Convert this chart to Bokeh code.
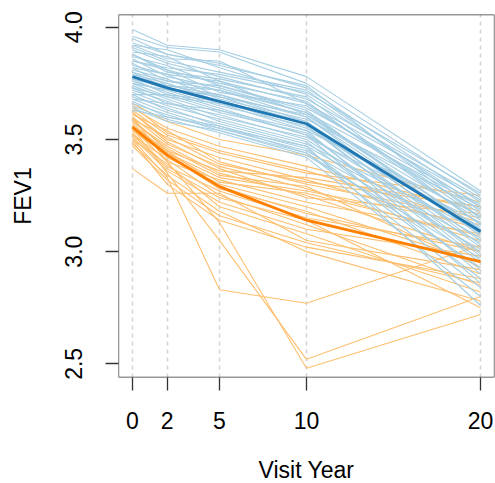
from bokeh.plotting import figure
from bokeh.models import ColumnDataSource, FixedTicker, Range1d, BoxAnnotation
from bokeh.embed import file_html
from bokeh.resources import INLINE

visit_years = [0, 2, 5, 10, 20]
y_ticks = [2.5, 3.0, 3.5, 4.0]

# Light blue group: FEV1 at visits 0, 2, 5, 10, 20
blue_subjects = [
    [3.99, 3.92, 3.90, 3.78, 3.27],
    [3.96, 3.91, 3.89, 3.75, 3.25],
    [3.93, 3.88, 3.84, 3.73, 3.22],
    [3.92, 3.90, 3.82, 3.70, 3.20],
    [3.91, 3.85, 3.80, 3.72, 3.18],
    [3.90, 3.84, 3.78, 3.68, 3.24],
    [3.89, 3.87, 3.76, 3.66, 3.15],
    [3.88, 3.80, 3.77, 3.69, 3.12],
    [3.87, 3.83, 3.74, 3.64, 3.21],
    [3.86, 3.78, 3.73, 3.62, 3.10],
    [3.85, 3.81, 3.71, 3.65, 3.17],
    [3.84, 3.76, 3.72, 3.60, 3.08],
    [3.83, 3.79, 3.69, 3.61, 3.14],
    [3.82, 3.74, 3.70, 3.58, 3.05],
    [3.81, 3.77, 3.68, 3.59, 3.19],
    [3.80, 3.73, 3.66, 3.57, 3.02],
    [3.79, 3.75, 3.67, 3.55, 3.11],
    [3.78, 3.72, 3.65, 3.56, 2.98],
    [3.77, 3.70, 3.63, 3.54, 3.16],
    [3.76, 3.71, 3.64, 3.52, 3.06],
    [3.75, 3.69, 3.62, 3.53, 2.95],
    [3.74, 3.68, 3.60, 3.51, 3.13],
    [3.73, 3.66, 3.61, 3.50, 3.00],
    [3.72, 3.67, 3.58, 3.48, 3.09],
    [3.71, 3.65, 3.59, 3.49, 2.92],
    [3.70, 3.63, 3.57, 3.47, 3.04],
    [3.69, 3.64, 3.56, 3.46, 2.88],
    [3.68, 3.62, 3.55, 3.45, 3.01],
    [3.67, 3.60, 3.56, 3.44, 2.84],
    [3.66, 3.61, 3.54, 3.43, 2.97],
    [3.65, 3.59, 3.53, 3.42, 2.80],
    [3.64, 3.58, 3.54, 3.44, 2.93],
    [3.63, 3.60, 3.55, 3.47, 2.76],
    [3.92, 3.86, 3.85, 3.66, 3.23],
    [3.85, 3.82, 3.79, 3.71, 3.26],
    [3.80, 3.76, 3.74, 3.63, 3.07],
    [3.75, 3.72, 3.70, 3.60, 3.03],
    [3.70, 3.70, 3.67, 3.58, 2.99],
    [3.88, 3.81, 3.75, 3.67, 3.12],
    [3.78, 3.74, 3.72, 3.62, 3.20],
    [3.73, 3.69, 3.66, 3.54, 2.90],
    [3.68, 3.66, 3.63, 3.52, 2.86],
    [3.95, 3.88, 3.83, 3.74, 3.15],
    [3.82, 3.79, 3.76, 3.61, 3.10],
    [3.77, 3.73, 3.69, 3.57, 2.96],
]

# Light orange group
orange_subjects = [
    [3.66, 3.58, 3.50, 3.43, 3.22],
    [3.64, 3.55, 3.47, 3.38, 3.18],
    [3.63, 3.52, 3.44, 3.35, 3.25],
    [3.62, 3.50, 3.42, 3.32, 3.10],
    [3.61, 3.54, 3.40, 3.30, 3.15],
    [3.60, 3.48, 3.38, 3.28, 3.05],
    [3.59, 3.45, 3.36, 3.33, 3.20],
    [3.58, 3.47, 3.35, 3.25, 3.00],
    [3.57, 3.44, 3.33, 3.27, 3.12],
    [3.56, 3.42, 3.30, 3.20, 2.95],
    [3.55, 3.40, 3.32, 3.22, 3.08],
    [3.54, 3.43, 3.28, 3.18, 2.90],
    [3.53, 3.38, 3.27, 3.15, 3.02],
    [3.52, 3.41, 3.25, 3.12, 2.85],
    [3.51, 3.36, 3.22, 3.10, 2.98],
    [3.50, 3.39, 3.20, 3.08, 2.82],
    [3.50, 3.33, 2.83, 2.77, 3.03],
    [3.55, 3.35, 3.05, 2.52, 2.80],
    [3.60, 3.40, 3.13, 2.48, 2.72],
    [3.49, 3.30, 3.14, 3.02, 2.88],
    [3.37, 3.26, 3.26, 3.05, 2.92],
    [3.48, 3.34, 3.18, 3.00, 2.78],
    [3.62, 3.49, 3.37, 3.24, 3.17],
    [3.58, 3.46, 3.34, 3.29, 2.93],
    [3.54, 3.44, 3.31, 3.26, 3.07],
    [3.65, 3.53, 3.45, 3.36, 3.13],
    [3.52, 3.37, 3.24, 3.14, 2.75],
    [3.47, 3.32, 3.16, 3.04, 2.86],
    [3.59, 3.51, 3.39, 3.31, 3.20],
    [3.56, 3.45, 3.29, 3.17, 3.00],
]

blue_mean = [3.78, 3.73, 3.67, 3.57, 3.09]
orange_mean = [3.555, 3.43, 3.29, 3.14, 2.955]

FONT = "Liberation Sans"

p = figure(
    width=495, height=483,
    frame_width=376, frame_height=363,
    min_border_left=118, min_border_right=1,
    min_border_top=14, min_border_bottom=106,
    x_range=Range1d(-0.8, 20.8), y_range=Range1d(2.439, 4.057),
    output_backend="svg", toolbar_location=None,
    background_fill_color="white", border_fill_color="white",
)

p.outline_line_color = None

# grid: vertical dashed lines at visit years only
p.ygrid.grid_line_color = None
p.xgrid.ticker = FixedTicker(ticks=visit_years)
p.xgrid.grid_line_color = "#d3d3d3"
p.xgrid.grid_line_dash = "4 4"
p.xgrid.grid_line_width = 1.5

orange_src = ColumnDataSource(dict(xs=[visit_years] * len(orange_subjects), ys=orange_subjects))
blue_src = ColumnDataSource(dict(xs=[visit_years] * len(blue_subjects), ys=blue_subjects))

p.multi_line("xs", "ys", source=orange_src, line_color="#fdbf6f", line_width=1.1)
p.multi_line("xs", "ys", source=blue_src, line_color="#a6cee3", line_width=1.1)

p.line(visit_years, orange_mean, line_color="#ff7f00", line_width=2.8)
p.line(visit_years, blue_mean, line_color="#1f78b4", line_width=2.8)

# plot box (spans the whole frame)
p.add_layout(BoxAnnotation(fill_color=None, fill_alpha=0, line_color="#333333",
                           line_alpha=1.0, line_width=1.3, level="overlay"))

for ax in (p.xaxis[0], p.yaxis[0]):
    ax.axis_line_color = None
    ax.major_tick_line_color = "#333333"
    ax.major_tick_line_width = 1.3
    ax.major_tick_out = 13
    ax.major_tick_in = 0
    ax.minor_tick_line_color = None
    ax.major_label_text_font = FONT
    ax.major_label_text_font_size = "23px"
    ax.major_label_text_color = "black"
    ax.axis_label_text_font = FONT
    ax.axis_label_text_font_size = "23px"
    ax.axis_label_text_font_style = "normal"
    ax.axis_label_text_color = "black"

p.xaxis[0].ticker = FixedTicker(ticks=visit_years)
p.xaxis[0].major_label_standoff = 21
p.xaxis[0].axis_label = "Visit Year"
p.xaxis[0].axis_label_standoff = 25

p.yaxis[0].ticker = FixedTicker(ticks=y_ticks)
p.yaxis[0].major_label_overrides = {t: f"{t:.1f}" for t in y_ticks}
p.yaxis[0].major_label_orientation = "vertical"
p.yaxis[0].major_label_standoff = 23
p.yaxis[0].axis_label = "FEV1"
p.yaxis[0].axis_label_standoff = 27

open("out.html", "w").write(file_html(p, INLINE))
